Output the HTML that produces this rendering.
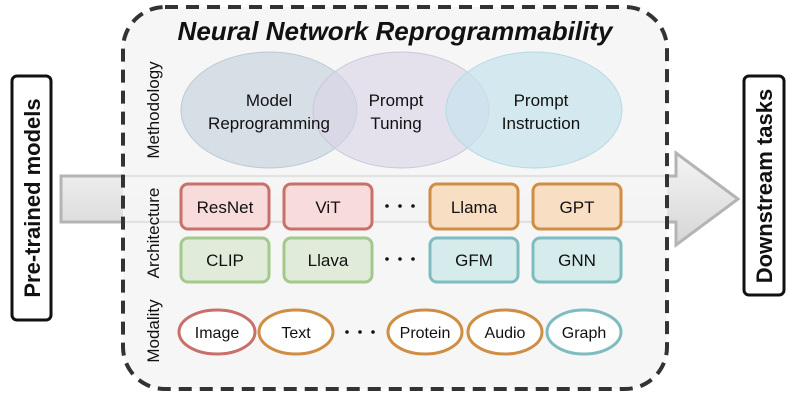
<!DOCTYPE html>
<html><head><style>body{margin:0;background:#fff}svg{display:block}</style></head><body>
<svg width="798" height="400" viewBox="0 0 798 400" xmlns="http://www.w3.org/2000/svg" font-family="Liberation Sans, sans-serif">
<defs>
<linearGradient id="ag" x1="0" y1="0" x2="0" y2="1"><stop offset="0" stop-color="#f4f4f4"/><stop offset="1" stop-color="#d6d6d6"/></linearGradient>
</defs>
<path d="M61,176 H676 V153 L738,199 L676,245 V222 H61 Z" fill="url(#ag)" stroke="#b4b4b4" stroke-width="3"/>
<rect x="123" y="7" width="544" height="382" rx="42" fill="#f5f5f5" fill-opacity="0.93" stroke="#333" stroke-width="4" stroke-dasharray="13,8"/>
<line x1="125" y1="176" x2="665" y2="176" stroke="#e2e2e2" stroke-width="2"/>
<line x1="125" y1="222" x2="665" y2="222" stroke="#e2e2e2" stroke-width="2"/>
<text x="395" y="40" text-anchor="middle" font-size="26" font-weight="bold" font-style="italic" fill="#111">Neural Network Reprogrammability</text>
<text transform="translate(159,110) rotate(-90)" text-anchor="middle" font-size="17" fill="#111">Methodology</text>
<text transform="translate(159,233) rotate(-90)" text-anchor="middle" font-size="17" fill="#111">Architecture</text>
<text transform="translate(159,331) rotate(-90)" text-anchor="middle" font-size="17" fill="#111">Modality</text>
<ellipse cx="269" cy="110" rx="88" ry="58" fill="#c9d4e0" fill-opacity="0.7" stroke="#bcc8d4"/>
<ellipse cx="401" cy="110" rx="88" ry="58" fill="#d9d4e6" fill-opacity="0.6" stroke="#cbc6da"/>
<ellipse cx="534" cy="110" rx="88" ry="58" fill="#c6e3ee" fill-opacity="0.7" stroke="#b8d8e4"/>
<g font-size="17" fill="#111" text-anchor="middle">
<text x="269" y="106">Model</text><text x="269" y="129">Reprogramming</text>
<text x="396" y="106">Prompt</text><text x="396" y="129">Tuning</text>
<text x="541" y="106">Prompt</text><text x="541" y="129">Instruction</text>
</g>
<g stroke-width="3" font-size="17" text-anchor="middle">
<rect x="181" y="184" width="88" height="45" rx="7" fill="#f8dcdc" stroke="#c9706a"/>
<rect x="284" y="184" width="88" height="45" rx="7" fill="#f8dcdc" stroke="#c9706a"/>
<rect x="430" y="184" width="88" height="45" rx="7" fill="#f8dfc4" stroke="#d08e44"/>
<rect x="533" y="184" width="88" height="45" rx="7" fill="#f8dfc4" stroke="#d08e44"/>
<rect x="181" y="238" width="88" height="44" rx="7" fill="#e0ebda" stroke="#a3c98c"/>
<rect x="284" y="238" width="88" height="44" rx="7" fill="#e0ebda" stroke="#a3c98c"/>
<rect x="430" y="238" width="88" height="44" rx="7" fill="#d5ebec" stroke="#7fbcc0"/>
<rect x="533" y="238" width="88" height="44" rx="7" fill="#d5ebec" stroke="#7fbcc0"/>
<g stroke="none" fill="#111">
<text x="225" y="213">ResNet</text><text x="328" y="213">ViT</text>
<text x="474" y="213">Llama</text><text x="577" y="213">GPT</text>
<text x="225" y="266">CLIP</text><text x="328" y="266">Llava</text>
<text x="474" y="266">GFM</text><text x="577" y="266">GNN</text>
</g>
<ellipse cx="217" cy="332" rx="38" ry="22" fill="#fff" stroke="#c9706a"/>
<ellipse cx="296" cy="332" rx="37" ry="22" fill="#fff" stroke="#d08e44"/>
<ellipse cx="425" cy="332" rx="37" ry="22" fill="#fff" stroke="#d08e44"/>
<ellipse cx="505" cy="332" rx="37" ry="22" fill="#fff" stroke="#d08e44"/>
<ellipse cx="584" cy="332" rx="37" ry="22" fill="#fff" stroke="#7fbcc0"/>
<g stroke="none" fill="#111" font-size="16">
<text x="217" y="338">Image</text><text x="296" y="338">Text</text>
<text x="425" y="338">Protein</text><text x="505" y="338">Audio</text><text x="584" y="338">Graph</text>
</g>
</g>
<g fill="#111">
<circle cx="387" cy="206" r="1.8"/><circle cx="400" cy="206" r="1.8"/><circle cx="413" cy="206" r="1.8"/>
<circle cx="387" cy="259" r="1.8"/><circle cx="400" cy="259" r="1.8"/><circle cx="413" cy="259" r="1.8"/>
<circle cx="347" cy="332" r="1.8"/><circle cx="360" cy="332" r="1.8"/><circle cx="373" cy="332" r="1.8"/>
</g>
<rect x="12" y="76" width="39" height="244" rx="5" fill="#fff" stroke="#111" stroke-width="3"/>
<text transform="translate(40,198) rotate(-90)" text-anchor="middle" font-size="22" font-weight="bold" fill="#111">Pre-trained models</text>
<rect x="744" y="76" width="40" height="219" rx="5" fill="#fff" stroke="#111" stroke-width="3"/>
<text transform="translate(772,186) rotate(-90)" text-anchor="middle" font-size="22" font-weight="bold" fill="#111">Downstream tasks</text>
</svg>
</body></html>
